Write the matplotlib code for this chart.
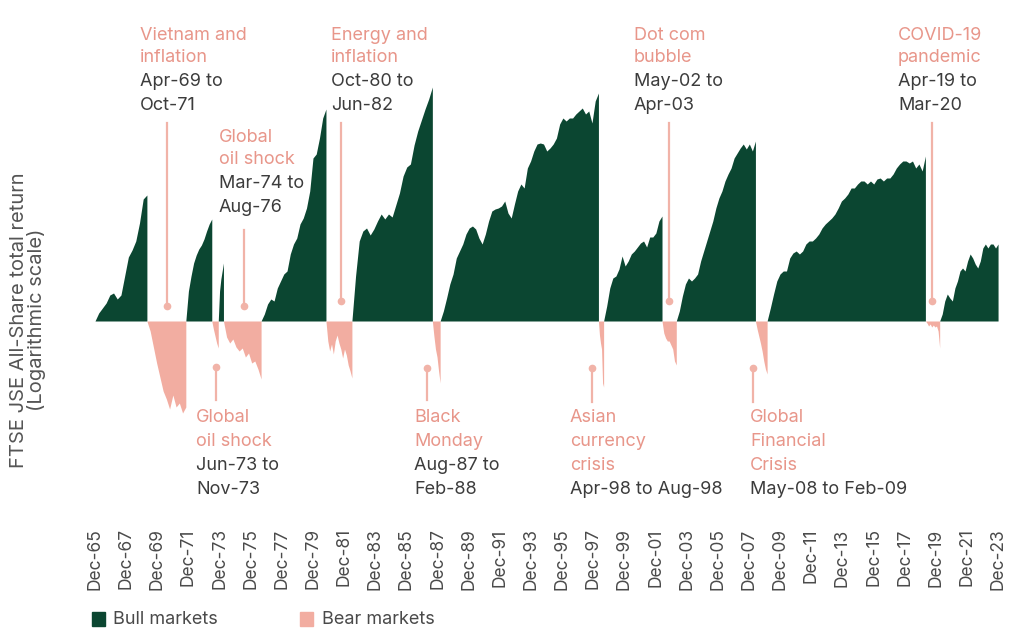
import matplotlib.pyplot as plt
from matplotlib.patches import Rectangle
import numpy as np

plt.rcParams['font.family'] = ['Inter', 'DejaVu Sans']

# market phases, bull and bear alternate (first one is a bull market)
phase_dates = ["Dec-65", "Apr-69", "Oct-71", "Jun-73", "Nov-73", "Mar-74", "Aug-76",
               "Oct-80", "Jun-82", "Aug-87", "Feb-88", "Apr-98", "Aug-98", "May-02",
               "Apr-03", "May-08", "Feb-09", "Apr-19", "Mar-20", "Dec-23"]

# cumulative total return in each phase, log scale (arbitrary units)
bull_65_69 = [0, 8, 13, 18, 26, 28, 22, 26, 45, 64, 71, 80, 98, 122, 126]
bear_69_71 = [0, -10, -26, -42, -56, -70, -78, -88, -74, -86, -82, -92, -86]
bull_71_73 = [0, 30, 45, 58, 66, 72, 76, 82, 90, 97, 102]
bear_73 = [0, -8, -15, -22, -27]
bull_73_74 = [0, 30, 42, 50, 58]
bear_74_76 = [0, -16, -22, -18, -26, -30, -27, -36, -32, -42, -40, -48, -58]
bull_76_80 = [0, 7, 17, 22, 20, 33, 40, 47, 50, 67, 77, 83, 97, 103, 113, 130, 163,
              167, 183, 203, 212]
bear_80_82 = [0, -20, -30, -23, -33, -20, -14, -22, -28, -37, -28, -34, -44, -50, -57]
bull_82_87 = [0, 45, 80, 90, 93, 86, 92, 100, 107, 102, 107, 104, 116, 128, 145, 154,
              157, 176, 190, 201, 212, 222, 234]
bear_87_88 = [0, -15, -28, -36, -50, -62]
bull_88_98 = [0, 10, 23, 37, 47, 63, 70, 77, 87, 93, 95, 92, 83, 77, 87, 100, 110, 112,
              113, 115, 120, 108, 103, 117, 130, 137, 133, 153, 160, 170, 177, 178, 177,
              170, 173, 177, 183, 197, 203, 200, 203, 203, 207, 210, 213, 207, 210, 198,
              220, 228]
bear_98 = [0, -14, -22, -28, -62, -66]
bull_98_02 = [0, 15, 33, 43, 45, 52, 65, 55, 60, 67, 70, 74, 78, 80, 74, 84, 84, 88, 100, 105]
bear_02_03 = [0, -12, -17, -20, -20, -24, -28, -40, -44]
bull_03_08 = [0, 10, 25, 37, 43, 40, 43, 47, 60, 70, 80, 90, 100, 113, 123, 130, 140, 147,
              153, 163, 168, 173, 177, 172, 177, 170, 180]
bear_08_09 = [0, -8, -15, -22, -30, -40, -48, -53]
bull_09_19 = [0, 13, 27, 40, 47, 50, 50, 63, 68, 70, 67, 70, 77, 80, 80, 83, 87, 93, 97,
              100, 103, 107, 113, 120, 123, 127, 133, 133, 137, 140, 140, 137, 140, 137,
              142, 143, 140, 143, 143, 147, 153, 157, 160, 160, 158, 160, 153, 157, 150, 165]
bear_19_20 = [0, -2, -5, -3, -6, -4, -6, -5, -10, -27]
bull_20_23 = [0, 7, 20, 27, 23, 20, 33, 40, 50, 53, 50, 60, 67, 63, 57, 53, 60, 73, 77,
              73, 77, 77, 73, 77]

phases = [bull_65_69, bear_69_71, bull_71_73, bear_73, bull_73_74, bear_74_76, bull_76_80,
          bear_80_82, bull_82_87, bear_87_88, bull_88_98, bear_98, bull_98_02, bear_02_03,
          bull_03_08, bear_08_09, bull_09_19, bear_19_20, bull_20_23]

tick_labels = ["Dec-%02d" % (y % 100) for y in range(1965, 2024, 2)]

# annotations: title lines (pink), date lines (grey)
top_notes = [
    (["Vietnam and", "inflation"], ["Apr-69 to", "Oct-71"]),
    (["Global", "oil shock"], ["Mar-74 to", "Aug-76"]),
    (["Energy and", "inflation"], ["Oct-80 to", "Jun-82"]),
    (["Dot com", "bubble"], ["May-02 to", "Apr-03"]),
    (["COVID-19", "pandemic"], ["Apr-19 to", "Mar-20"]),
]
bottom_notes = [
    (["Global", "oil shock"], ["Jun-73 to", "Nov-73"]),
    (["Black", "Monday"], ["Aug-87 to", "Feb-88"]),
    (["Asian", "currency", "crisis"], ["Apr-98 to Aug-98"]),
    (["Global", "Financial", "Crisis"], ["May-08 to Feb-09"]),
]

MONTHS = ["Jan", "Feb", "Mar", "Apr", "May", "Jun", "Jul", "Aug", "Sep", "Oct", "Nov", "Dec"]


def to_year(s):
    mon, yy = s.split("-")
    yy = int(yy)
    year = 1900 + yy if yy >= 50 else 2000 + yy
    return year + MONTHS.index(mon) / 12.0


def px_to_year(px):
    # layout helper: horizontal pixel position -> decimal year
    return to_year("Dec-65") + (px - 95) / 15.57


GREEN = "#0b4631"
BEAR = "#f2ada1"
PINK_TXT = "#e8968a"
GREY_TXT = "#3c3c3c"
LINE = "#f1b3a8"

fig = plt.figure(figsize=(10.24, 6.44), dpi=100)
W, H = 1024.0, 644.0
ax = fig.add_axes([93 / W, 1 - 420 / H, 907 / W, 340 / H])

for i, vals in enumerate(phases):
    t0 = to_year(phase_dates[i])
    t1 = to_year(phase_dates[i + 1])
    x = np.linspace(t0, t1, len(vals))
    ax.fill_between(x, 0, vals, color=GREEN if i % 2 == 0 else BEAR, lw=0)

ax.set_xlim(px_to_year(93), px_to_year(1000))
ax.set_ylim(-99, 241)
for s in ax.spines.values():
    s.set_visible(False)
ax.set_yticks([])
ax.set_xticks([to_year(l) for l in tick_labels])
ax.set_xticklabels(tick_labels, rotation=90, fontsize=12.5, color="#4a4a4a")
ax.tick_params(axis="x", length=0, pad=78)


def ypx(p):
    # pixel row -> data units (1 unit = 1 px, baseline at row 321)
    return 321 - p


def note(x_px, rows, titles, dates):
    lines = [(t, PINK_TXT) for t in titles] + [(d, GREY_TXT) for d in dates]
    for (txt, col), row in zip(lines, rows):
        ax.text(px_to_year(x_px), ypx(row), txt, color=col, fontsize=13,
                ha="left", va="center", clip_on=False)


top_rows = [35, 58, 82, 105]
top_rows_oil = [137, 160, 184, 208]
bottom_rows = [418, 442, 466, 490]

note(140, top_rows, *top_notes[0])
note(219, top_rows_oil, *top_notes[1])
note(331, top_rows, *top_notes[2])
note(634, top_rows, *top_notes[3])
note(898, top_rows, *top_notes[4])
note(196, bottom_rows, *bottom_notes[0])
note(414, bottom_rows, *bottom_notes[1])
note(570, bottom_rows, *bottom_notes[2])
note(750, bottom_rows, *bottom_notes[3])

# pointer lines with a dot at the chart end
pointers = [(167, 123, 306), (244, 230, 306), (341, 123, 301), (669, 123, 301),
            (932, 123, 301), (216, 400, 367), (427, 400, 368), (592, 402, 368),
            (753, 402, 368)]
for xp, y_start, y_dot in pointers:
    xx = px_to_year(xp)
    ax.plot([xx, xx], [ypx(y_start), ypx(y_dot)], color=LINE, lw=1.6, clip_on=False)
    ax.plot(xx, ypx(y_dot), "o", color=LINE, ms=4.5, clip_on=False)

fig.text(28 / W, 1 - 320 / H, "FTSE JSE All-Share total return\n(Logarithmic scale)",
         rotation=90, ha="center", va="center", fontsize=14.5, color="#555555",
         linespacing=0.95, multialignment="center")

# legend
fig.patches.append(Rectangle((92 / W, 1 - 626 / H), 13 / W, 14 / H, color=GREEN,
                             transform=fig.transFigure))
fig.text(113 / W, 1 - 619 / H, "Bull markets", fontsize=13, color="#4a4a4a", va="center")
fig.patches.append(Rectangle((300 / W, 1 - 626 / H), 13 / W, 14 / H, color=BEAR,
                             transform=fig.transFigure))
fig.text(322 / W, 1 - 619 / H, "Bear markets", fontsize=13, color="#4a4a4a", va="center")

fig.savefig("out.png", dpi=100)
